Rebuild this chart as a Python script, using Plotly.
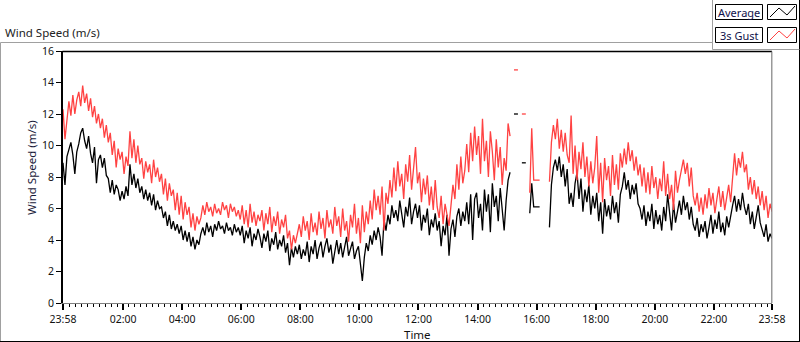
import plotly.graph_objects as go

# ---------------- data ----------------
# time axis: minutes after 23:58, one sample every 4 minutes
minutes = list(range(0, 1441, 4))

average = [
    8.9, 7.5, 9.3, 9.8, 10.2, 9.4, 8.2, 9.6, 10.1, 10.8,
    11.1, 10.3, 9.8, 10.6, 9.5, 8.9, 9.9, 7.6, 9.1, 9.4,
    8.6, 9.2, 8.1, 7.9, 7.0, 7.8, 6.9, 7.5, 7.2, 6.5,
    7.1, 6.6, 7.4, 6.8, 8.8, 7.5, 8.2, 7.3, 7.9, 7.0,
    7.4, 6.6, 7.2, 6.5, 7.0, 6.2, 6.9, 5.9, 6.5, 6.0,
    6.1, 5.4, 5.8, 4.9, 5.6, 4.7, 5.2, 4.6, 5.0, 4.4,
    4.9, 4.0, 4.6, 3.9, 4.5, 3.6, 4.2, 3.4, 4.0, 3.7,
    4.4, 4.8, 4.3, 5.1, 4.5, 4.9, 4.2, 5.0, 4.6, 5.2,
    4.7, 4.9, 4.4, 5.1, 4.6, 4.8, 4.3, 5.0, 4.5, 4.8,
    4.3, 4.9, 3.8, 4.6, 4.1, 4.8, 3.6, 4.4, 4.0, 4.7,
    4.2, 3.5, 4.4, 3.9, 4.6, 3.3, 4.1, 3.7, 4.5, 3.4,
    4.0, 3.6, 4.3, 3.2, 3.8, 2.4, 3.5, 2.9, 3.6, 3.1,
    3.7, 2.8, 3.4, 3.0, 3.9, 2.6, 3.6, 3.1, 4.0, 2.8,
    3.5, 3.9, 2.9, 3.6, 4.1, 3.2, 3.7, 2.5, 3.4, 4.0,
    3.1, 3.8, 2.9, 3.6, 4.2, 3.0, 3.5, 3.9, 2.8, 3.3,
    3.6, 2.4, 1.4, 2.9, 3.8, 3.3, 4.3, 3.7, 4.6, 4.0,
    4.8, 4.2, 3.0, 5.3, 4.6, 5.6, 5.0, 6.2, 5.4, 5.9,
    5.2, 6.5, 5.7, 4.8, 6.1, 5.5, 6.7, 5.0, 5.8, 6.3,
    5.4, 6.2, 4.6, 5.6, 5.1, 6.0, 4.3, 5.3, 4.8, 5.7,
    4.6, 5.2, 3.6, 4.9, 4.3, 5.6, 3.0, 4.7, 5.3, 4.2,
    5.5, 6.0, 4.9, 5.8, 5.2, 6.4, 5.0, 6.9, 4.0, 6.6,
    7.0, 5.4, 6.3, 4.6, 7.2, 5.8, 6.9, 4.5, 7.6, 6.1,
    6.8, 5.2, 7.3, 6.0, 4.6, 6.5, 7.8, 8.3,
    None, 12.0, 12.0, 12.0, None, 8.9, 8.9, 8.9, None, 5.7,
    7.6, 6.1, 6.1, 6.1, 6.1, None, None, None, None,
    4.8, 7.5, 8.6, 9.1, 8.4, 9.3, 8.0, 8.8, 7.4, 8.5,
    6.3, 7.0, 6.1, 7.6, 8.3, 6.6, 7.9, 5.8, 7.2, 6.4,
    7.5, 5.6, 6.8, 6.0, 7.0, 5.2, 6.4, 4.4, 6.6, 5.5,
    6.2, 5.3, 6.8, 5.7, 6.4, 5.1, 6.9, 7.4, 8.3, 7.2,
    7.8, 6.6, 7.5, 6.9, 7.6, 6.3, 6.0, 5.3, 6.2, 4.9,
    5.8, 5.2, 6.3, 4.7, 5.9, 5.0, 5.6, 4.6, 6.1, 5.2,
    6.9, 5.5, 4.6, 6.3, 5.1, 5.8, 6.5, 5.6, 6.8, 5.9,
    6.4, 5.3, 6.1, 5.0, 4.6, 5.4, 4.2, 5.0, 4.5, 5.2,
    4.1, 4.8, 5.6, 4.4, 5.3, 4.7, 5.8, 4.5, 5.1, 4.3,
    5.5, 4.8, 5.6, 6.2, 6.8, 5.8, 6.6, 5.9, 7.0, 6.1,
    5.6, 6.3, 5.0, 5.8, 4.7, 5.4, 6.2, 5.1, 4.6, 4.2,
    5.0, 3.9, 4.4, 4.1,
]

gust = [
    12.3, 10.4, 11.6, 12.8, 11.9, 13.2, 12.0, 12.9, 13.4, 12.5,
    13.8, 12.7, 13.3, 12.2, 13.0, 11.8, 12.5, 11.4, 12.0, 11.1,
    11.7, 10.5, 11.3, 10.2, 10.8, 9.4, 10.3, 8.6, 9.8, 9.1,
    9.6, 8.2, 9.3, 8.7, 10.9, 9.2, 10.4, 8.9, 10.0, 8.8,
    9.2, 7.9, 9.0, 8.3, 8.8, 7.6, 9.1, 8.0, 8.6, 7.7,
    8.2, 6.9, 7.9, 6.5, 7.6, 6.8, 7.2, 5.9, 7.0, 5.6,
    6.8, 5.3, 6.4, 5.6, 6.1, 4.8, 5.7, 4.6, 5.5, 5.0,
    5.4, 6.2, 5.6, 6.4, 5.8, 6.1, 5.5, 6.3, 5.7, 6.0,
    5.6, 6.4, 5.9, 6.2, 5.4, 6.3, 5.8, 6.1, 5.5, 5.9,
    5.3, 6.2, 5.0, 5.9, 4.8, 6.3, 5.1, 5.8, 4.9, 5.6,
    5.2, 5.9, 4.6, 5.7, 5.0, 6.1, 4.5, 5.5, 4.9, 5.8,
    4.4, 5.3, 4.8, 5.6, 4.1, 4.6, 3.4, 4.3, 3.8, 4.5,
    5.0, 4.2, 5.5, 4.6, 5.2, 4.0, 5.7, 4.5, 5.1, 4.3,
    5.8, 4.7, 5.4, 4.1, 5.9, 4.8, 5.3, 4.4, 6.1, 4.9,
    5.5, 4.2, 6.0, 4.6, 5.2, 3.9, 5.6, 4.8, 6.3, 4.4,
    5.4, 3.8, 6.2, 4.5, 5.8, 5.0, 6.5, 5.3, 7.2, 5.9,
    6.8, 5.6, 7.4, 4.6, 7.0, 6.3, 7.8, 6.7, 8.6, 7.1,
    9.0, 7.4, 8.2, 6.6, 8.8, 7.7, 9.4, 7.2, 8.5, 9.9,
    7.6, 8.3, 6.4, 7.9, 6.9, 8.1, 6.2, 7.4, 5.9, 7.8,
    6.1, 5.4, 6.8, 5.0, 6.3, 5.6, 4.9, 6.2, 7.5, 6.6,
    8.8, 7.2, 9.3, 7.6, 8.4, 10.1, 8.3, 10.8, 9.0, 11.2,
    9.4, 10.6, 8.2, 11.7, 9.0, 10.3, 8.0, 10.9, 9.6, 7.8,
    10.4, 8.6, 9.9, 7.5, 9.2, 8.4, 11.4, 10.6,
    None, 14.8, 14.8, 14.8, None, 12.0, 12.0, 12.0, None, 7.0,
    11.1, 7.8, 7.8, 7.8, 7.8, None, None, None, None,
    7.7, 10.2, 11.3, 10.4, 11.7, 9.8, 11.0, 9.6, 10.8, 9.4,
    8.9, 11.9, 8.2, 10.0, 7.8, 9.6, 8.5, 10.2, 8.0, 9.3,
    7.4, 9.0, 7.6, 8.6, 10.6, 7.0, 8.9, 6.4, 9.2, 7.8,
    8.7, 6.8, 9.4, 7.5, 8.8, 7.2, 9.5, 8.6, 9.8, 8.8,
    10.2, 9.0, 9.7, 8.4, 9.3, 8.1, 8.8, 7.4, 8.6, 7.0,
    8.3, 6.9, 8.7, 7.3, 8.0, 6.6, 7.9, 7.1, 9.0, 6.8,
    8.2, 6.6, 7.5, 5.9, 8.4, 7.0, 7.8, 8.6, 9.1, 8.2,
    8.9, 7.4, 8.6, 6.8, 6.2, 7.0, 5.8, 6.7, 5.6, 6.9,
    6.0, 7.3, 6.2, 7.0, 5.7, 6.6, 7.4, 6.1, 7.1, 5.9,
    6.8, 7.5, 6.4, 7.8, 9.5, 8.1, 9.2, 8.6, 9.6, 8.3,
    8.8, 7.2, 8.0, 6.9, 7.8, 6.6, 7.4, 6.2, 7.1, 5.9,
    6.8, 5.4, 6.3, 5.8,
]

tick_minutes = [0, 122, 242, 362, 482, 602, 722, 842, 962, 1082, 1202, 1322, 1440]
tick_labels = ["23:58", "02:00", "04:00", "06:00", "08:00", "10:00", "12:00",
               "14:00", "16:00", "18:00", "20:00", "22:00", "23:58"]
y_ticks = [0, 2, 4, 6, 8, 10, 12, 14, 16]

series_names = ["Average", "3s Gust"]
series_colors = ["#000000", "#ff4242"]

# ---------------- layout geometry ----------------
W, H = 800, 342
L, R, T, B = 63, 28, 51, 39
PW, PH = W - L - R, H - T - B
FONT = "Noto Sans, Open Sans, DejaVu Sans, sans-serif"


def px(x):
    return (x - L) / PW


def py(y):
    return (H - B - y) / PH


fig = go.Figure()
fig.add_trace(go.Scatter(x=minutes, y=average, mode="lines", name=series_names[0],
                         line=dict(color=series_colors[0], width=1.3),
                         connectgaps=False, showlegend=False))
fig.add_trace(go.Scatter(x=minutes, y=gust, mode="lines", name=series_names[1],
                         line=dict(color=series_colors[1], width=1.3),
                         connectgaps=False, showlegend=False))

shapes = []


def line(x0, y0, x1, y1, color, width=1):
    shapes.append(dict(type="line", xref="paper", yref="paper",
                       x0=px(x0), y0=py(y0), x1=px(x1), y1=py(y1),
                       line=dict(color=color, width=width)))


# outer frame
line(0.5, 42.5, 0.5, 341.5, "#a0a0a0")
line(0.5, 42.5, 712.5, 42.5, "#a0a0a0")
line(799.5, 0, 799.5, 342, "#000000")
line(0, 341.5, 800, 341.5, "#000000")
# legend frame
line(712.5, 0, 712.5, 49.5, "#a0a0a0")
line(712.5, 49.5, 799.5, 49.5, "#a0a0a0")
# plot frame top / right
line(62.5, 51.5, 772, 51.5, "#000000", 1.5)
line(771.8, 51.5, 771.8, 303, "#808080", 1.2)

# legend boxes
annotations = []
for k, (name, col) in enumerate(zip(series_names, series_colors)):
    y0 = 4 + 23 * k
    shapes.append(dict(type="rect", xref="paper", yref="paper",
                       x0=px(715.5), x1=px(762.5), y0=py(y0 + 0.5), y1=py(y0 + 15.5),
                       line=dict(color="#000000", width=1), fillcolor="white"))
    shapes.append(dict(type="rect", xref="paper", yref="paper",
                       x0=px(767.5), x1=px(796.5), y0=py(y0 + 0.5), y1=py(y0 + 15.5),
                       line=dict(color="#000000", width=1), fillcolor="white"))
    pts = [(770, y0 + 13), (779, y0 + 4), (787, y0 + 11), (795, y0 + 2)]
    path = "M " + " L ".join(f"{px(a)},{py(b)}" for a, b in pts)
    shapes.append(dict(type="path", xref="paper", yref="paper", path=path,
                       line=dict(color=col, width=1)))
    annotations.append(dict(text=name, xref="paper", yref="paper",
                            x=px(739), y=py(y0 + 8), xanchor="center", yanchor="middle",
                            showarrow=False, font=dict(family=FONT, size=11, color="#10104a")))

annotations.append(dict(text="Wind Speed (m/s)", xref="paper", yref="paper",
                        x=px(3), y=py(32.5), xanchor="left", yanchor="middle",
                        showarrow=False, font=dict(family=FONT, size=11.5, color="#222222")))
annotations.append(dict(text="Wind Speed (m/s)", xref="paper", yref="paper",
                        x=px(31), y=py(168), xanchor="center", yanchor="middle",
                        textangle=-90, showarrow=False,
                        font=dict(family=FONT, size=11.5, color="#1a1a3a")))
annotations.append(dict(text="Time", xref="paper", yref="paper",
                        x=px(417.5), y=py(334.5), xanchor="center", yanchor="middle",
                        showarrow=False, font=dict(family=FONT, size=11.5, color="#111111")))

fig.update_layout(
    width=W, height=H,
    margin=dict(l=L, r=R, t=T, b=B, pad=0),
    paper_bgcolor="white", plot_bgcolor="white",
    font=dict(family=FONT, size=10.5, color="#111111"),
    shapes=shapes, annotations=annotations,
    showlegend=False,
)
fig.update_xaxes(
    range=[0, 1440], showgrid=False, zeroline=False,
    showline=True, linecolor="#808080", linewidth=1.2,
    tickmode="array", tickvals=tick_minutes, ticktext=tick_labels,
    ticks="outside", ticklen=6, tickwidth=2, tickcolor="#000000",
    tickfont=dict(family=FONT, size=10.5, color="#111111"),
    minor=dict(ticks="outside", tick0=2, dtick=12, ticklen=3, tickwidth=1,
               tickcolor="#000000", showgrid=False),
)
fig.update_yaxes(
    range=[0, 16], showgrid=False, zeroline=False,
    showline=True, linecolor="#000000", linewidth=1.6,
    tickmode="array", tickvals=y_ticks,
    ticks="outside", ticklen=5, tickwidth=1, tickcolor="#000000",
    tickfont=dict(family=FONT, size=10.5, color="#111111"),
)

fig.write_html("out.html", config={"displayModeBar": False})

# remove the browser's default page margin so the figure sits at (0, 0)
with open("out.html", "r", encoding="utf-8") as f:
    html = f.read()
html = html.replace("<head>", "<head><style>html,body{margin:0;padding:0;overflow:hidden;}</style>", 1)
with open("out.html", "w", encoding="utf-8") as f:
    f.write(html)
